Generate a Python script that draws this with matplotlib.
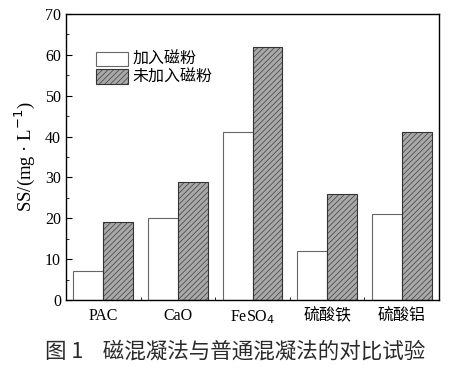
import numpy as np
import matplotlib.pyplot as plt

plt.rcParams['font.family'] = ['Liberation Serif', 'Noto Sans CJK SC', 'DejaVu Sans']
plt.rcParams['hatch.linewidth'] = 0.45
plt.rcParams['hatch.color'] = '#3a3a3a'

categories = ['PAC', 'CaO', 'FeSO$_4$', '硫酸铁', '硫酸铝']
with_powder = [7, 20, 41, 12, 21]
without_powder = [19, 29, 62, 26, 41]
legend_labels = ['加入磁粉', '未加入磁粉']

fig = plt.figure(figsize=(4.7, 3.72), dpi=100)
ax = fig.add_axes([66 / 470, 1 - 300 / 372, 373 / 470, 286 / 372])

x = np.arange(len(categories))
w = 0.4
ax.bar(x - w / 2, with_powder, w, color='white', edgecolor='#666666', linewidth=0.8,
       label=legend_labels[0])
ax.bar(x + w / 2, without_powder, w, color='#a8a8a8', edgecolor='#333333', linewidth=0.8,
       hatch='//////', label=legend_labels[1])

ax.set_xlim(-0.5, 4.5)
ax.set_ylim(0, 70)
ax.set_yticks(np.arange(0, 71, 10))
ax.set_yticks(np.arange(5, 70, 10), minor=True)
ax.set_xticks(x)
ax.set_xticks(x[:-1] + 0.5, minor=True)
ax.set_xticklabels(categories)
ax.tick_params(which='both', direction='in', labelsize=11.5, top=False, right=False)
ax.tick_params(which='major', length=4)
ax.tick_params(which='minor', length=2)
ax.tick_params(axis='x', which='major', length=0, pad=6)
for s in ax.spines.values():
    s.set_linewidth(1.0)

ax.set_ylabel('SS/(mg · L$^{-1}$)', fontsize=13.5, labelpad=6)

ax.legend(loc='upper left', bbox_to_anchor=(0.08, 0.87), frameon=False,
          borderaxespad=0, borderpad=0,
          handlelength=2.0, handleheight=1.0, handletextpad=0.3, labelspacing=0.05,
          prop={'family': ['Noto Sans CJK SC'], 'size': 11.5})

fig.text(0.5, 1 - 352 / 372, '图 1    磁混凝法与普通混凝法的对比试验', ha='center', va='center',
         fontsize=15.5, family=['Noto Sans CJK SC', 'DejaVu Sans'], color='#2a2a2a')

fig.savefig('out.png', dpi=100)
